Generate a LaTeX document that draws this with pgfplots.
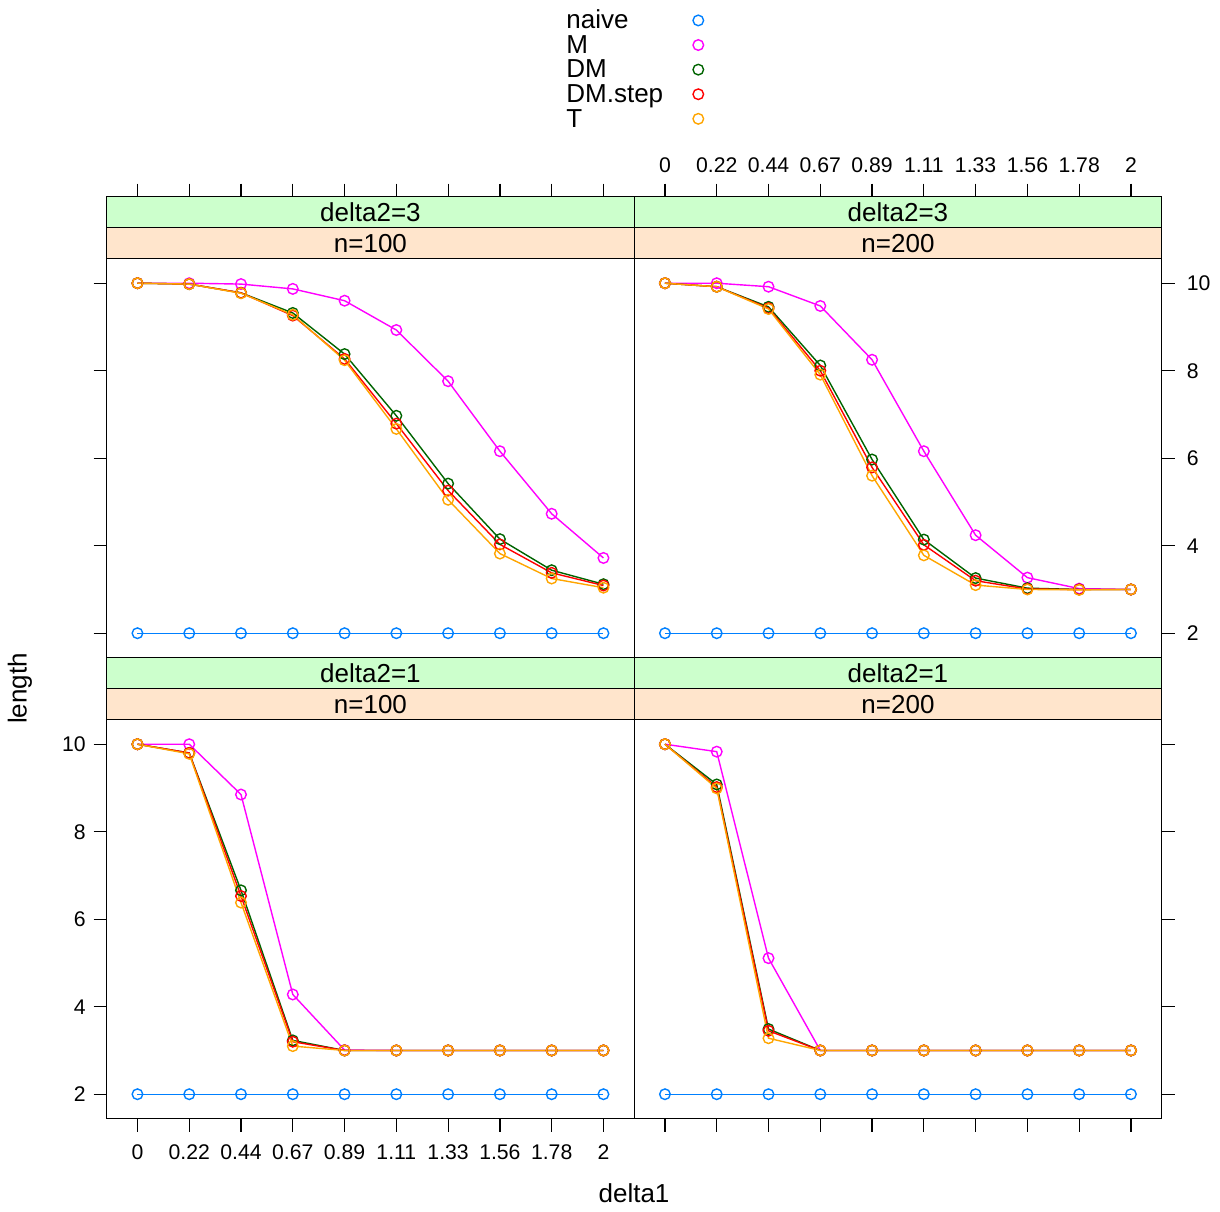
\documentclass[border=0pt]{standalone}
\usepackage{fontspec}
\setmainfont{Liberation Sans}
\usepackage{pgfplots}
\usepackage{pgfplotstable}
\pgfplotsset{compat=1.18}

\definecolor{cnaive}{HTML}{0080FF}
\definecolor{cM}{HTML}{FF00FF}
\definecolor{cDM}{HTML}{006400}
\definecolor{cDMs}{HTML}{FF0000}
\definecolor{cT}{HTML}{FFA500}
\definecolor{stripA}{HTML}{CCFFCC}
\definecolor{stripB}{HTML}{FFE5CC}

\newcommand\bigfont{\fontsize{13pt}{15pt}\selectfont}
\newcommand\tickfont{\fontsize{10.6pt}{12pt}\selectfont}

% delta2=3, n=100
\pgfplotstableread{
x      naive M     DM    DMs   T
0      2     10    10    10    10
0.2222 2     10    9.98  9.98  9.98
0.4444 2     9.98  9.78  9.78  9.77
0.6667 2     9.87  9.32  9.26  9.28
0.8889 2     9.60  8.38  8.27  8.24
1.1111 2     8.93  6.97  6.79  6.67
1.3333 2     7.76  5.42  5.26  5.05
1.5556 2     6.16  4.15  4.03  3.82
1.7778 2     4.73  3.44  3.38  3.25
2      2     3.72  3.12  3.09  3.04
}\tabTL
% delta2=3, n=200
\pgfplotstableread{
x      naive M     DM    DMs   T
0      2     10    10    10    10
0.2222 2     10    9.92  9.92  9.92
0.4444 2     9.92  9.46  9.43  9.41
0.6667 2     9.48  8.12  8.00  7.91
0.8889 2     8.25  5.97  5.79  5.60
1.1111 2     6.16  4.14  4.02  3.78
1.3333 2     4.24  3.26  3.20  3.10
1.5556 2     3.27  3.03  3.01  3.00
1.7778 2     3.02  3.00  3.00  2.99
2      2     3.00  3.00  3.00  3.00
}\tabTR
% delta2=1, n=100
\pgfplotstableread{
x      naive M     DM    DMs   T
0      2     10    10    10    10
0.2222 2     10    9.80  9.80  9.78
0.4444 2     8.85  6.66  6.53  6.38
0.6667 2     4.28  3.23  3.20  3.10
0.8889 2     3.01  3.00  3.00  3.00
1.1111 2     3.00  3.00  3.00  3.00
1.3333 2     3.00  3.00  3.00  3.00
1.5556 2     3.00  3.00  3.00  3.00
1.7778 2     3.00  3.00  3.00  3.00
2      2     3.00  3.00  3.00  3.00
}\tabBL
% delta2=1, n=200
\pgfplotstableread{
x      naive M     DM    DMs   T
0      2     10    10    10    10
0.2222 2     9.83  9.08  9.02  8.99
0.4444 2     5.11  3.49  3.45  3.28
0.6667 2     3.00  3.00  3.00  3.00
0.8889 2     3.00  3.00  3.00  3.00
1.1111 2     3.00  3.00  3.00  3.00
1.3333 2     3.00  3.00  3.00  3.00
1.5556 2     3.00  3.00  3.00  3.00
1.7778 2     3.00  3.00  3.00  3.00
2      2     3.00  3.00  3.00  3.00
}\tabBR

\pgfplotsset{
  base/.style={
    scale only axis, width=263.75pt,
    xmin=-0.132, xmax=2.132,
    xtick={0,0.2222,0.4444,0.6667,0.8889,1.1111,1.3333,1.5556,1.7778,2},
    xticklabels={0,0.22,0.44,0.67,0.89,1.11,1.33,1.56,1.78,2},
    tick align=outside, major tick length=6.5pt,
    tick style={black, line width=0.6pt},
    axis line style={black, line width=0.6pt},
    ticklabel style={font=\tickfont},
    /pgf/number format/assume math mode=true,
    anchor=south west,
  },
  panel/.style={base, height=199.5pt, ymin=1.44, ymax=10.56,
    ytick={2,4,6,8,10}, yticklabels={2,4,6,8,10},
    every axis plot/.append style={line width=0.7pt, mark=o, mark size=2.65pt, mark options={solid}},
  },
  strip/.style={base, height=31pt, ymin=0, ymax=2, ytick=\empty, axis on top},
}

\newcommand\plotall[1]{%
  \addplot[cnaive] table[x=x,y=naive] {#1};
  \addplot[cM] table[x=x,y=M] {#1};
  \addplot[cDM] table[x=x,y=DM] {#1};
  \addplot[cDMs] table[x=x,y=DMs] {#1};
  \addplot[cT] table[x=x,y=T] {#1};
}
\newcommand\strips[2]{%
  \fill[stripA] (rel axis cs:0,0.5) rectangle (rel axis cs:1,1);
  \fill[stripB] (rel axis cs:0,0) rectangle (rel axis cs:1,0.5);
  \draw[line width=0.6pt] (rel axis cs:0,0.5) -- (rel axis cs:1,0.5);
  \node[font=\bigfont] at (rel axis cs:0.5,0.75) {#1};
  \node[font=\bigfont] at (rel axis cs:0.5,0.25) {#2};
}

\begin{document}
\begin{tikzpicture}
\path[use as bounding box] (0pt,0pt) rectangle (610pt,-605.5pt);

% ---------- top-left ----------
\begin{axis}[strip, at={(53.35pt,-129.35pt)}, xtick pos=right, xticklabels={}]
\strips{delta2=3}{n=100}
\end{axis}
\begin{axis}[panel, at={(53.35pt,-328.85pt)}, xmajorticks=false, ytick pos=left, yticklabels={},
  legend style={at={(axis description cs:0.8707,1.6225)}, anchor=north west, draw=none, fill=none,
    inner sep=0pt, row sep=0pt, column sep=14.9pt, font=\bigfont,
    nodes={inner sep=0pt, text height=9pt, text depth=3.3pt}},
  legend plot pos=right, legend cell align=left,
  legend image code/.code={\draw[only marks] plot coordinates {(0pt,1.3pt)};},
  ]
\plotall{\tabTL}
\legend{naive,M,DM,DM.step,T}
\end{axis}

% ---------- top-right ----------
\begin{axis}[strip, at={(317.1pt,-129.35pt)}, xtick pos=right, xticklabel style={yshift=2pt}]
\strips{delta2=3}{n=200}
\end{axis}
\begin{axis}[panel, at={(317.1pt,-328.85pt)}, xmajorticks=false, ytick pos=right,
  yticklabel style={xshift=2.5pt}]
\plotall{\tabTR}
\end{axis}

% ---------- bottom-left ----------
\begin{axis}[strip, at={(53.35pt,-359.85pt)}, xmajorticks=false]
\strips{delta2=1}{n=100}
\end{axis}
\begin{axis}[panel, at={(53.35pt,-559.35pt)}, xtick pos=left, ytick pos=left,
  xticklabel style={yshift=-3pt}, yticklabel style={xshift=-0.5pt}]
\plotall{\tabBL}
\end{axis}

% ---------- bottom-right ----------
\begin{axis}[strip, at={(317.1pt,-359.85pt)}, xmajorticks=false]
\strips{delta2=1}{n=200}
\end{axis}
\begin{axis}[panel, at={(317.1pt,-559.35pt)}, xtick pos=left, xticklabels={}, ytick pos=right, yticklabels={}]
\plotall{\tabBR}
\end{axis}

\node[font=\bigfont, rotate=90] at (10pt,-344.25pt) {length};
\node[font=\bigfont] at (317pt,-596.5pt) {delta1};
\end{tikzpicture}
\end{document}
